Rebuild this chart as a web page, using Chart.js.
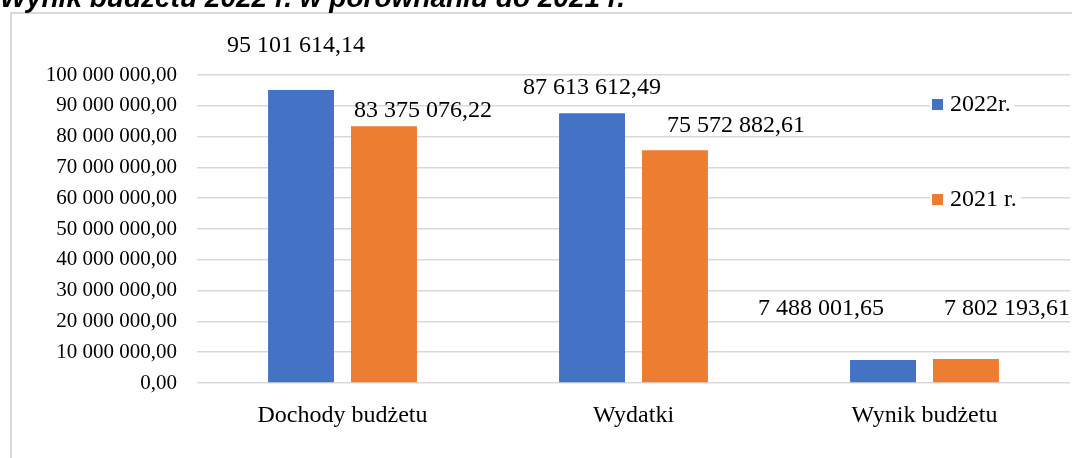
<!DOCTYPE html>
<html lang="pl">
<head>
<meta charset="utf-8">
<title>Wynik budżetu 2022 r. w porównaniu do 2021 r.</title>
<script src="https://cdn.jsdelivr.net/npm/chart.js@4/dist/chart.umd.min.js"></script>
<style>
  html, body { margin: 0; padding: 0; background: #fff; overflow: hidden; }
  body { width: 1072px; height: 458px; position: relative; }
  #title {
    position: absolute; left: 0; top: -16px; white-space: nowrap;
    font: italic bold 28px/28px "Liberation Sans", Arial, sans-serif; color: #000;
  }
  #wrap { position: absolute; left: 0; top: 0; width: 1072px; height: 458px; }
</style>
</head>
<body>
<div id="wrap"><canvas id="budgetChart"></canvas></div>
<div id="title">Wynik budżetu 2022 r. w porównaniu do 2021 r.</div>
<script>
// dane
const categories = ['Dochody budżetu', 'Wydatki', 'Wynik budżetu'];
const seriesLabels = ['2022r.', '2021 r.'];
const values2022 = [95101614.14, 87613612.49, 7488001.65];
const values2021 = [83375076.22, 75572882.61, 7802193.61];
const yTicks = [0, 10000000, 20000000, 30000000, 40000000, 50000000, 60000000, 70000000, 80000000, 90000000, 100000000];

const SERIF = '"Liberation Serif", "Times New Roman", serif';

// 95101614.14 -> "95 101 614,14"
function fmtPl(v) {
  const parts = v.toFixed(2).split('.');
  return parts[0].replace(/\B(?=(\d{3})+(?!\d))/g, ' ') + ',' + parts[1];
}

// etykiety danych przesunięte ręcznie jak w oryginale
const valueLabels = {
  id: 'valueLabels',
  afterDatasetsDraw(chart, args, opts) {
    const ctx = chart.ctx;
    ctx.save();
    ctx.font = opts.font;
    ctx.fillStyle = '#000';
    ctx.textAlign = 'center';
    ctx.textBaseline = 'middle';
    chart.data.datasets.forEach((ds, i) => {
      chart.getDatasetMeta(i).data.forEach((bar, j) => {
        const off = opts.offsets[i][j];
        ctx.fillText(fmtPl(ds.data[j]), bar.x + off[0], bar.y + off[1]);
      });
    });
    ctx.restore();
  }
};

// legenda w dwóch wierszach po prawej
const sideLegend = {
  id: 'sideLegend',
  afterDatasetsDraw(chart, args, opts) {
    const ctx = chart.ctx;
    ctx.save();
    ctx.font = opts.font;
    ctx.textBaseline = 'middle';
    ctx.textAlign = 'left';
    chart.data.datasets.forEach((ds, i) => {
      const p = opts.items[i];
      const w = ctx.measureText(ds.label).width;
      ctx.fillStyle = '#fff';
      ctx.fillRect(p.x - 2, p.y - 12, w + 24, 24);
      ctx.fillStyle = ds.backgroundColor;
      ctx.fillRect(p.x, p.y - 5, 11, 11);
      ctx.fillStyle = '#000';
      ctx.fillText(ds.label, p.x + 18, p.y + 1);
    });
    ctx.restore();
  }
};

// szara ramka obszaru wykresu
const frame = {
  id: 'frame',
  beforeDraw(chart) {
    const ctx = chart.ctx;
    ctx.save();
    ctx.strokeStyle = '#d9d9d9';
    ctx.lineWidth = 2;
    ctx.strokeRect(11, 13, 1200, 600);
    ctx.restore();
  }
};

function initChart() {
  const ctx = document.getElementById('budgetChart').getContext('2d');
  new Chart(ctx, {
    type: 'bar',
    data: {
      labels: categories,
      datasets: [
        { label: seriesLabels[0], data: values2022, backgroundColor: '#4472C4' },
        { label: seriesLabels[1], data: values2021, backgroundColor: '#ED7D31' }
      ]
    },
    options: {
      responsive: true,
      maintainAspectRatio: false,
      animation: false,
      categoryPercentage: 0.57,
      barPercentage: 0.795,
      layout: { padding: { top: 75, right: 2, bottom: 0, left: 0 } },
      plugins: {
        legend: { display: false },
        tooltip: { enabled: false },
        valueLabels: {
          font: '24px ' + SERIF,
          offsets: [
            [[-5, -44], [0, -25], [-62, -51]],
            [[39, -16], [61, -25], [41, -50]]
          ]
        },
        sideLegend: {
          font: '24px ' + SERIF,
          items: [{ x: 932, y: 104 }, { x: 932, y: 199 }]
        }
      },
      scales: {
        x: {
          grid: { display: false },
          border: { display: false },
          ticks: { color: '#000', padding: 10, font: { family: SERIF, size: 24 } },
          afterFit(scale) { scale.height = 75; }
        },
        y: {
          min: 0,
          max: 100000000,
          grid: { color: '#d9d9d9', lineWidth: 1.5, drawTicks: false },
          border: { display: false },
          afterBuildTicks(scale) { scale.ticks = yTicks.map(v => ({ value: v })); },
          ticks: {
            color: '#000',
            padding: 20,
            font: { family: SERIF, size: 21 },
            callback: v => fmtPl(v)
          },
          afterFit(scale) { scale.width = 197; }
        }
      }
    },
    plugins: [frame, valueLabels, sideLegend]
  });
}

document.addEventListener('DOMContentLoaded', initChart);
</script>
</body>
</html>
